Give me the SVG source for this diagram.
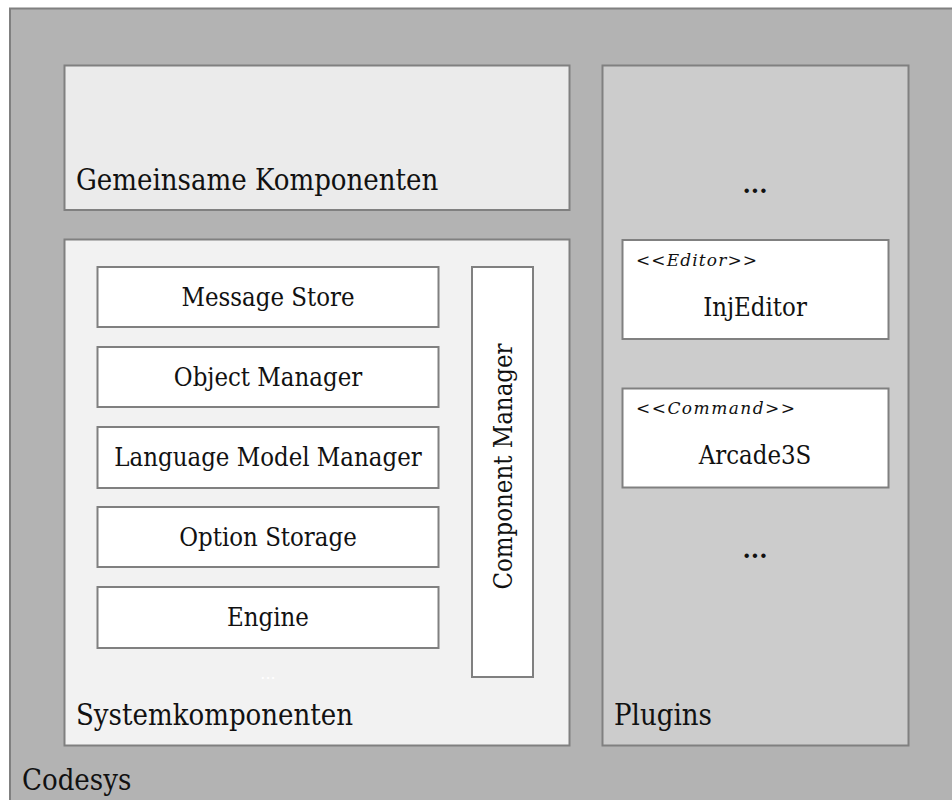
<svg xmlns="http://www.w3.org/2000/svg" width="952" height="800" viewBox="0 0 952 800">
<style>
.b{stroke:#808080;stroke-width:2}
.t{font-family:"DejaVu Serif Condensed","DejaVu Serif","Liberation Serif",serif;font-stretch:condensed;fill:#111}
.big{font-size:29px}
.mid{font-size:25.5px}
.st{font-family:"DejaVu Serif","Liberation Serif",serif;font-size:17px;fill:#111}
.it{font-style:italic}
.c{text-anchor:middle}
.dots{font-family:"DejaVu Serif",serif;font-weight:bold;font-size:24px;text-anchor:middle;fill:#111}
</style>
<g id="codesys">
<rect x="10" y="8.5" width="960" height="820" fill="#b3b3b3" class="b"/>
<text x="22" y="790" class="t big">Codesys</text>
</g>
<g id="gemeinsame">
<rect x="64.5" y="65.5" width="505" height="144.5" fill="#ebebeb" class="b"/>
<text x="76" y="190" class="t big">Gemeinsame Komponenten</text>
</g>
<g id="systemkomponenten">
<rect x="64.5" y="239.5" width="505" height="506" fill="#f2f2f2" class="b"/>
<text x="76" y="725" class="t big">Systemkomponenten</text>
<text x="268" y="679" class="dots" style="fill:#fff;font-weight:normal;font-size:16px">...</text>
</g>
<g id="plugins">
<rect x="602.5" y="65.5" width="306" height="680" fill="#cccccc" class="b"/>
<text x="614" y="725" class="t big">Plugins</text>
<text x="755" y="193" class="dots">...</text>
<text x="755" y="558" class="dots">...</text>
</g>
<g id="message-store"><rect x="97.5" y="267" width="341" height="60" fill="#fff" class="b"/><text x="268" y="306" class="t mid c">Message Store</text></g>
<g id="object-manager"><rect x="97.5" y="347" width="341" height="60" fill="#fff" class="b"/><text x="268" y="386" class="t mid c">Object Manager</text></g>
<g id="language-model-manager"><rect x="97.5" y="427" width="341" height="61" fill="#fff" class="b"/><text x="268" y="466" class="t mid c">Language Model Manager</text></g>
<g id="option-storage"><rect x="97.5" y="507" width="341" height="60" fill="#fff" class="b"/><text x="268" y="546" class="t mid c">Option Storage</text></g>
<g id="engine"><rect x="97.5" y="587" width="341" height="61" fill="#fff" class="b"/><text x="268" y="626" class="t mid c">Engine</text></g>
<g id="component-manager"><rect x="472" y="267" width="61" height="410" fill="#fff" class="b"/><text transform="translate(512,466.5) rotate(-90)" class="t mid c">Component Manager</text></g>
<g id="injeditor"><rect x="622.5" y="240" width="266" height="99" fill="#fff" class="b"/><text x="636" y="266" class="st" textLength="121" lengthAdjust="spacing">&lt;&lt;<tspan class="it">Editor</tspan>&gt;&gt;</text><text x="755" y="316" class="t mid c">InjEditor</text></g>
<g id="arcade3s"><rect x="622.5" y="388.5" width="266" height="99" fill="#fff" class="b"/><text x="636" y="414" class="st" textLength="159" lengthAdjust="spacing">&lt;&lt;<tspan class="it">Command</tspan>&gt;&gt;</text><text x="755" y="464" class="t mid c">Arcade3S</text></g>
<g id="connectors"></g>
</svg>
